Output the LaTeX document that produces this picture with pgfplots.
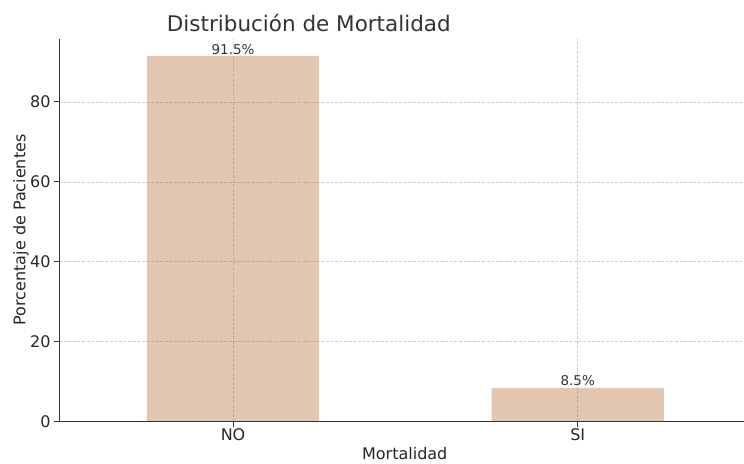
\documentclass[border=0pt]{standalone}
\usepackage{pgfplots}
\pgfplotsset{compat=1.18}
\usepackage{fontspec}
\setmainfont{DejaVu Sans}
\definecolor{barc}{RGB}{226,199,178}
\definecolor{gridc}{RGB}{128,128,128}
\definecolor{txt}{RGB}{38,38,38}
\definecolor{spine}{RGB}{51,51,51}
\begin{document}
\begin{tikzpicture}
\begin{axis}[
  at={(0,0)}, anchor=south west,
  scale only axis, width=685bp, height=383bp,
  xmin=-0.505, xmax=1.481, ymin=0, ymax=95.75,
  axis x line*=bottom, axis y line*=left,
  axis line style={spine, line width=0.9bp},
  xtick={0,1}, xticklabels={NO,SI},
  ytick={0,20,40,60,80},
  tick align=outside, major tick length=5bp,
  tick style={spine, line width=0.9bp},
  grid=major, grid style={gridc, draw opacity=0.38, dash pattern=on 3bp off 1.6bp, line width=0.7bp},
  axis on top,
  tick label style={font=\fontsize{16bp}{18bp}\selectfont, text=txt},
  xticklabel style={yshift=1.5bp},
  /pgf/number format/assume math mode=true,
  ybar, bar width=0.5,
  clip=false,
  nodes near coords={\pgfmathprintnumber[fixed,precision=1]{\pgfplotspointmeta}\%},
  every node near coord/.append style={font=\fontsize{13.5bp}{15bp}\selectfont, text=spine, inner sep=1.5bp},
]
\addplot[fill=barc, draw=none] coordinates {(0,91.5) (1,8.5)};
\end{axis}
\node[text=spine, font=\fontsize{21.5bp}{24bp}\selectfont] at (250bp,399bp) {Distribución de Mortalidad};
\node[text=txt, font=\fontsize{16bp}{18bp}\selectfont, rotate=90] at (-38bp,192bp) {Porcentaje de Pacientes};
\node[text=txt, font=\fontsize{16bp}{18bp}\selectfont] at (346bp,-32bp) {Mortalidad};
\useasboundingbox (-59bp,-40bp) rectangle (685bp,422bp);
\end{tikzpicture}
\end{document}
